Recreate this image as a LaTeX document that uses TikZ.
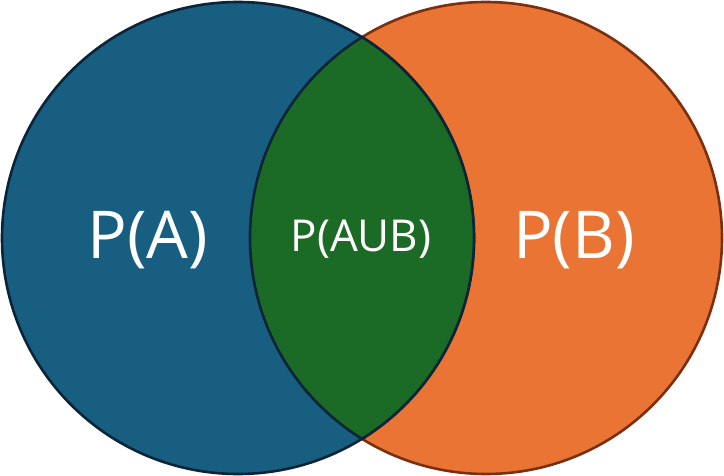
\documentclass[tikz,border=0pt]{standalone}
\usepackage{fontspec}
\setmainfont{Open Sans}
\usepackage{tikz}

\definecolor{setblue}{HTML}{175E80}
\definecolor{setorange}{HTML}{E97434}
\definecolor{setgreen}{HTML}{1B6B27}
\definecolor{edgeblue}{HTML}{0B2438}
\definecolor{edgeorange}{HTML}{7A3010}

\begin{document}
\begin{tikzpicture}[x=1pt,y=-1pt,
    setlabel/.style={text=white, font=\fontsize{66}{66}\selectfont},
    meetlabel/.style={text=white, font=\fontsize{44}{44}\selectfont}]
    \def \radius {236}
    \def \lw {2.6pt}
    \useasboundingbox (0,0) rectangle (724,476);
    \coordinate (A) at (238,238);
    \coordinate (B) at (486,238);
    \draw[line width=\lw, fill=setorange, draw=edgeorange] (B) circle (\radius);
    \draw[line width=\lw, fill=setblue, draw=edgeblue] (A) circle (\radius);
    \begin{scope}
      \clip (A) circle (\radius);
      \draw[line width=\lw, fill=setgreen, draw=edgeblue] (B) circle (\radius);
    \end{scope}
    \begin{scope}
      \clip (B) circle (\radius);
      \draw[line width=\lw, draw=edgeblue] (A) circle (\radius);
    \end{scope}
    \node[setlabel] (pa) at (148,240) {P(A)};
    \node[setlabel] (pb) at (574,240) {P(B)};
    \node[meetlabel] (pab) at (361,239) {P(AUB)};
\end{tikzpicture}
\end{document}
